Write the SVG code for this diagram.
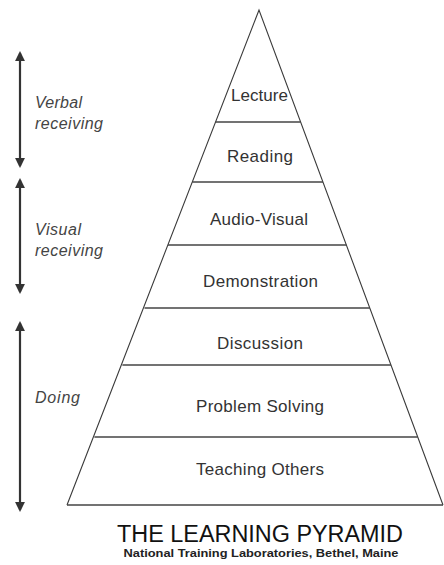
<svg xmlns="http://www.w3.org/2000/svg" width="444" height="565" viewBox="0 0 444 565">
<style>
.bg{fill:#fff}
.edge{fill:none;stroke:#3a3a3a;stroke-width:1.1}
.band{stroke:#444;stroke-width:1.6}
.lbl{font-family:"Liberation Sans",Arial,sans-serif;font-size:17px;fill:#333;text-anchor:middle}
.side{font-family:"Liberation Sans",Arial,sans-serif;font-size:16px;font-style:italic;fill:#444}
.arr{stroke:#333;stroke-width:2.2;fill:none}
.title{font-family:"Liberation Sans",Arial,sans-serif;font-size:23px;fill:#111;text-anchor:middle}
.sub{font-family:"Liberation Sans",Arial,sans-serif;font-size:11px;font-weight:bold;fill:#222;text-anchor:middle}
</style>
<defs>
<marker id="ah" viewBox="0 0 10 10" refX="8" refY="5" markerWidth="4.5" markerHeight="4.5" orient="auto-start-reverse" markerUnits="strokeWidth">
<path d="M0,0 L10,5 L0,10 Z" fill="#333"/>
</marker>
</defs>
<rect class="bg" x="0" y="0" width="444" height="565"/>
<g id="pyramid">
<path class="edge" d="M67,505 L259,10 L443,505"/>
<line class="band" x1="67" y1="505" x2="443" y2="505"/>
</g>
<g id="bands">
<line class="band" x1="215.6" y1="122" x2="300.6" y2="122"/>
<line class="band" x1="192.3" y1="182" x2="323" y2="182"/>
<line class="band" x1="168" y1="245" x2="346.4" y2="245"/>
<line class="band" x1="144.5" y1="308" x2="369.8" y2="308"/>
<line class="band" x1="122.4" y1="365" x2="391" y2="365"/>
<line class="band" x1="94.4" y1="437" x2="417.7" y2="437"/>
</g>
<g id="lecture"><text class="lbl" x="259.5" y="101" textLength="57" lengthAdjust="spacing">Lecture</text></g>
<g id="reading"><text class="lbl" x="260" y="162" textLength="66" lengthAdjust="spacing">Reading</text></g>
<g id="audio-visual"><text class="lbl" x="259" y="225" textLength="98" lengthAdjust="spacing">Audio-Visual</text></g>
<g id="demonstration"><text class="lbl" x="260.5" y="287" textLength="115" lengthAdjust="spacing">Demonstration</text></g>
<g id="discussion"><text class="lbl" x="260" y="349" textLength="86" lengthAdjust="spacing">Discussion</text></g>
<g id="problem-solving"><text class="lbl" x="260" y="412" textLength="128" lengthAdjust="spacing">Problem Solving</text></g>
<g id="teaching-others"><text class="lbl" x="260" y="475" textLength="128" lengthAdjust="spacing">Teaching Others</text></g>
<g id="connectors">
<line class="arr" x1="20" y1="53" x2="20" y2="166" marker-start="url(#ah)" marker-end="url(#ah)"/>
<line class="arr" x1="20" y1="180" x2="20" y2="292" marker-start="url(#ah)" marker-end="url(#ah)"/>
<line class="arr" x1="20" y1="323" x2="20" y2="510" marker-start="url(#ah)" marker-end="url(#ah)"/>
</g>
<g id="verbal-receiving">
<text class="side" x="35" y="108" textLength="47" lengthAdjust="spacing">Verbal</text>
<text class="side" x="35" y="129" textLength="68" lengthAdjust="spacing">receiving</text>
</g>
<g id="visual-receiving">
<text class="side" x="35" y="235" textLength="46" lengthAdjust="spacing">Visual</text>
<text class="side" x="35" y="256" textLength="68" lengthAdjust="spacing">receiving</text>
</g>
<g id="doing">
<text class="side" x="35" y="403" textLength="45" lengthAdjust="spacing">Doing</text>
</g>
<g id="title">
<text class="title" x="260" y="542" textLength="286" lengthAdjust="spacingAndGlyphs">THE LEARNING PYRAMID</text>
<text class="sub" x="261" y="557" textLength="275" lengthAdjust="spacingAndGlyphs">National Training Laboratories, Bethel, Maine</text>
</g>
</svg>
